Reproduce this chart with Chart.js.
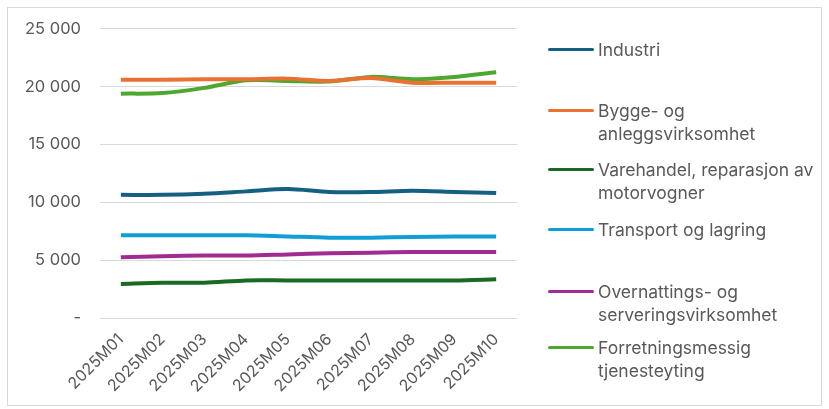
<!DOCTYPE html>
<html>
<head>
<meta charset="utf-8">
<script src="https://cdn.jsdelivr.net/npm/chart.js@4.4.0/dist/chart.umd.min.js"></script>
<style>
  html, body { margin: 0; padding: 0; background: #fff; }
  #wrap { position: relative; width: 829px; height: 409px; overflow: hidden; }
  #frame { position: absolute; left: 7px; top: 7px; width: 815px; height: 399px; border: 1px solid #d9d9d9; box-sizing: border-box; }
  #c { position: absolute; left: 0; top: 0; }
  .leg { position: absolute; left: 548px; font-family: "Inter", "Open Sans", sans-serif; font-size: 17.5px; color: #595959; line-height: 23px; }
  .leg .sw { position: absolute; left: 0; width: 46px; height: 3px; border-radius: 2px; top: 10px; }
  .leg .tx { position: absolute; left: 50px; white-space: nowrap; top: 0; }
</style>
</head>
<body>
<div id="wrap">
  <div id="frame"></div>
  <canvas id="c" width="829" height="409"></canvas>
  <div id="legend"></div>
</div>
<script>
const categories = ["2025M01","2025M02","2025M03","2025M04","2025M05","2025M06","2025M07","2025M08","2025M09","2025M10"];
const seriesNames = [
  "Industri",
  "Bygge- og\nanleggsvirksomhet",
  "Varehandel, reparasjon av\nmotorvogner",
  "Transport og lagring",
  "Overnattings- og\nserveringsvirksomhet",
  "Forretningsmessig\ntjenesteyting"
];
const industri      = [10650, 10650, 10750, 10950, 11150, 10900, 10900, 11000, 10900, 10800];
const bygge         = [20600, 20600, 20650, 20650, 20700, 20500, 20750, 20350, 20350, 20350];
const varehandel    = [2950, 3050, 3050, 3250, 3250, 3250, 3250, 3250, 3250, 3350];
const transport     = [7150, 7150, 7150, 7150, 7050, 6950, 6950, 7000, 7050, 7050];
const overnatting   = [5250, 5350, 5400, 5400, 5500, 5600, 5650, 5700, 5700, 5700];
const forretning    = [19400, 19450, 19900, 20550, 20500, 20450, 20850, 20650, 20850, 21250];
const yTicks = [0, 5000, 10000, 15000, 20000, 25000];

const colors = ["#156082", "#E97132", "#196B24", "#0F9ED5", "#A02B93", "#4EA72E"];
const seriesData = [industri, bygge, varehandel, transport, overnatting, forretning];
const legendTops = [38, 99, 158, 218, 280, 336];

const font = '"Inter", "Open Sans", sans-serif';

new Chart(document.getElementById('c'), {
  type: 'line',
  data: {
    labels: categories,
    datasets: seriesData.map((d, i) => ({
      label: seriesNames[i].replace('\n', ' '),
      data: d,
      borderColor: colors[i],
      backgroundColor: colors[i],
      borderWidth: 4,
      pointRadius: 0,
      tension: 0.3,
      fill: false
    }))
  },
  options: {
    responsive: false,
    animation: false,
    layout: { padding: { left: 0, right: 312, top: 28, bottom: 0 } },
    plugins: { legend: { display: false }, tooltip: { enabled: false } },
    scales: {
      x: {
        offset: true,
        grid: { display: false, drawTicks: false },
        border: { display: false },
        ticks: { color: '#595959', font: { family: font, size: 16 }, maxRotation: 45, minRotation: 45, padding: 12 },
        afterFit: s => { s.height = 91; }
      },
      y: {
        min: 0, max: 25000,
        afterBuildTicks: s => { s.ticks = yTicks.map(v => ({ value: v })); },
        grid: { color: '#d9d9d9', lineWidth: 1, drawTicks: false },
        border: { display: false },
        ticks: {
          color: '#595959', font: { family: font, size: 16.5 }, padding: 19,
          callback: v => v === 0 ? '-' : String(v).replace(/\B(?=(\d{3})+(?!\d))/g, ' ')
        },
        afterFit: s => { s.width = 100; }
      }
    }
  }
});

const leg = document.getElementById('legend');
seriesNames.forEach((name, i) => {
  const d = document.createElement('div');
  d.className = 'leg';
  d.style.top = legendTops[i] + 'px';
  const sw = document.createElement('div');
  sw.className = 'sw';
  sw.style.background = colors[i];
  const tx = document.createElement('div');
  tx.className = 'tx';
  tx.innerHTML = name.split('\n').join('<br>');
  d.appendChild(sw); d.appendChild(tx);
  leg.appendChild(d);
});
</script>
</body>
</html>
